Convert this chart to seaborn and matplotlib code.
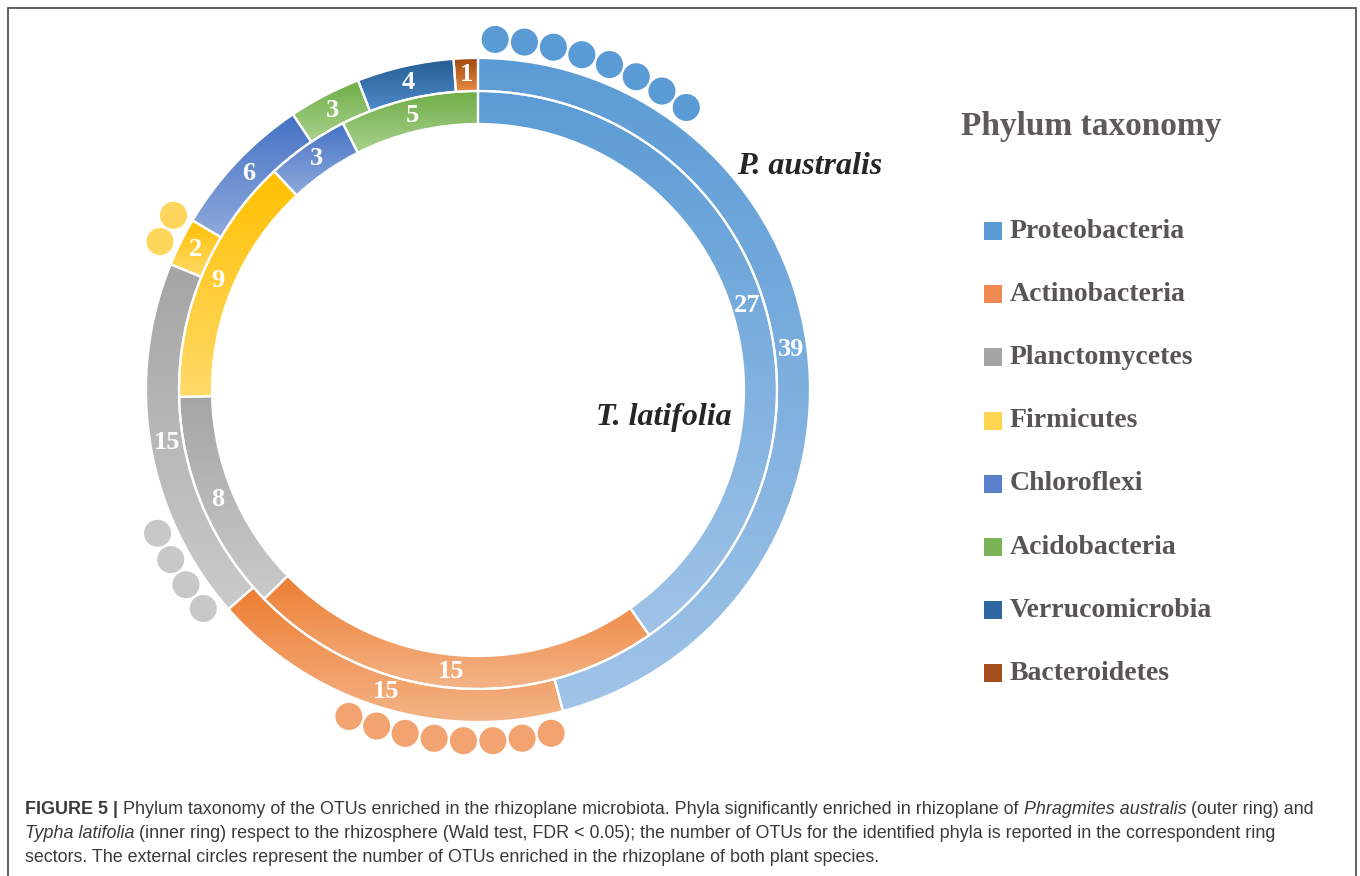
import numpy as np
import matplotlib
matplotlib.use("Agg")
import matplotlib.pyplot as plt
from matplotlib.colors import to_rgb
from matplotlib.patches import Rectangle
import seaborn as sns

# data
phyla = ['Proteobacteria', 'Actinobacteria', 'Planctomycetes', 'Firmicutes',
         'Chloroflexi', 'Acidobacteria', 'Verrucomicrobia', 'Bacteroidetes']
outer_vals = [39, 15, 15, 2, 6, 3, 4, 1]      # P. australis
inner_vals = [27, 15, 8, 9, 3, 5, 0, 0]       # T. latifolia
shared_vals = [8, 8, 4, 2, 0, 0, 0, 0]        # external circles

legend_colors = ['#5B9BD5', '#EE8A52', '#A5A5A5', '#FFD54F',
                 '#5A7FCB', '#7AB358', '#2E67A0', '#A5501C']
top_colors = ['#5B9BD5', '#ED7D31', '#A5A5A5', '#FFC000',
              '#4472C4', '#70AD47', '#255E91', '#9E480E']
bottom_colors = ['#A0C4E8', '#F4B487', '#CACACA', '#FFDA6A',
                 '#8FAADC', '#A9D18E', '#4F8ACB', '#ED8A45']
dot_colors = ['#5B9BD5', '#F2A36F', '#C8C8C8', '#FFD65C']

sns.set_theme(style="white")
plt.rcParams['font.family'] = ['Liberation Serif', 'DejaVu Serif']

W, H = 1360, 876
fig = plt.figure(figsize=(13.6, 8.76), dpi=100)
ax = fig.add_axes([0, 0, 1, 1])
cx, cy = 478, H - 390
R_out, R_mid, R_in = 332, 299, 266


def gradient_fill(ax, wedges, vals, idx_list):
    for w, v, i in zip(wedges, vals, idx_list):
        if v == 0:
            continue
        ext = w.get_path().get_extents()
        c0 = np.array(to_rgb(bottom_colors[i]))
        c1 = np.array(to_rgb(top_colors[i]))
        t = np.linspace(0, 1, 256)[:, None]
        img = (c0 + (c1 - c0) * t)[:, None, :]
        im = ax.imshow(img, extent=(ext.x0, ext.x1, ext.y0, ext.y1), origin='lower',
                       aspect='auto', interpolation='bilinear', zorder=2)
        im.set_clip_path(w)
        w.set_facecolor('none')
        w.set_zorder(3)


outer_w, _ = ax.pie(outer_vals, radius=R_out, center=(cx, cy), startangle=90,
                    counterclock=False, colors=top_colors,
                    wedgeprops=dict(width=R_out - R_mid, edgecolor='white', linewidth=1.6))
inner_idx = [i for i, v in enumerate(inner_vals) if v > 0]
inner_w, _ = ax.pie([inner_vals[i] for i in inner_idx], radius=R_mid, center=(cx, cy),
                    startangle=90, counterclock=False,
                    colors=[top_colors[i] for i in inner_idx],
                    wedgeprops=dict(width=R_mid - R_in, edgecolor='white', linewidth=1.6))
gradient_fill(ax, outer_w, outer_vals, range(len(phyla)))
gradient_fill(ax, inner_w, [inner_vals[i] for i in inner_idx], inner_idx)

# sector numbers
for wlist, vals, r in [(outer_w, outer_vals, (R_out + R_mid) / 2),
                       (inner_w, [inner_vals[i] for i in inner_idx], (R_mid + R_in) / 2)]:
    for w, v in zip(wlist, vals):
        a = np.deg2rad((w.theta1 + w.theta2) / 2)
        ax.text(cx + r * np.cos(a), cy + r * np.sin(a), str(v), color='white',
                fontsize=19, fontweight='bold', ha='center', va='center', zorder=5)

# external circles (shared OTUs)
total = sum(outer_vals)
cum = np.cumsum([0] + outer_vals[:-1])
xs, ys, cs = [], [], []
for i, n in enumerate(shared_vals):
    start = 360 * cum[i] / total
    for k in range(n):
        a = np.deg2rad(90 - (start + 2.8 + 4.8 * k))
        xs.append(cx + 351 * np.cos(a))
        ys.append(cy + 351 * np.sin(a))
        cs.append(phyla[i])
sns.scatterplot(x=xs, y=ys, hue=cs, palette=dict(zip(phyla[:4], dot_colors)),
                s=380, linewidth=0, legend=False, ax=ax, zorder=4)

# ring names
ax.text(810, H - 166, 'P. australis', fontsize=23, fontweight='bold', fontstyle='italic',
        color='#262626', ha='center', va='center')
ax.text(664, H - 417, 'T. latifolia', fontsize=23, fontweight='bold', fontstyle='italic',
        color='#262626', ha='center', va='center')

# legend
ax.text(961, H - 126, 'Phylum taxonomy', fontsize=24, fontweight='bold', color='#5E5A5A',
        ha='left', va='center')
for i, name in enumerate(phyla):
    y = H - (231 + 63.2 * i)
    ax.add_patch(Rectangle((984, y - 9), 18, 18, color=legend_colors[i], lw=0))
    ax.text(1010, y, name, fontsize=20, fontweight='bold', color='#595555',
            ha='left', va='center')

# frame
ax.add_patch(Rectangle((8, -20), 1348, H - 8 + 20, fill=False, edgecolor='#555555', lw=1.3))

ax.set_xlim(0, W)
ax.set_ylim(0, H)
ax.set_aspect('equal')
ax.axis('off')

# caption with mixed styles
renderer = fig.canvas.get_renderer()
cap_kw = dict(fontsize=12.9, family=['Liberation Sans', 'DejaVu Sans'], color='#3a3a3a')


def run_width(txt, **style):
    t1 = ax.text(0, 0, '|' + txt + '|', **cap_kw, **style)
    t2 = ax.text(0, 0, '||', **cap_kw, **style)
    w = t1.get_window_extent(renderer).width - t2.get_window_extent(renderer).width
    t1.remove()
    t2.remove()
    return w


lines = [
    [('FIGURE 5 |', dict(fontweight='bold')),
     (' Phylum taxonomy of the OTUs enriched in the rhizoplane microbiota. Phyla significantly '
      'enriched in rhizoplane of ', {}),
     ('Phragmites australis', dict(fontstyle='italic')),
     (' (outer ring) and', {})],
    [('Typha latifolia', dict(fontstyle='italic')),
     (' (inner ring) respect to the rhizosphere (Wald test, FDR < 0.05); the number of OTUs for '
      'the identified phyla is reported in the correspondent ring', {})],
    [('sectors. The external circles represent the number of OTUs enriched in the rhizoplane '
      'of both plant species.', {})],
]
for j, runs in enumerate(lines):
    x = 25
    y = H - (814 + 24 * j)
    for txt, style in runs:
        ax.text(x, y, txt, ha='left', va='baseline', **cap_kw, **style)
        x += run_width(txt, **style)

fig.savefig('out.png', dpi=100)
